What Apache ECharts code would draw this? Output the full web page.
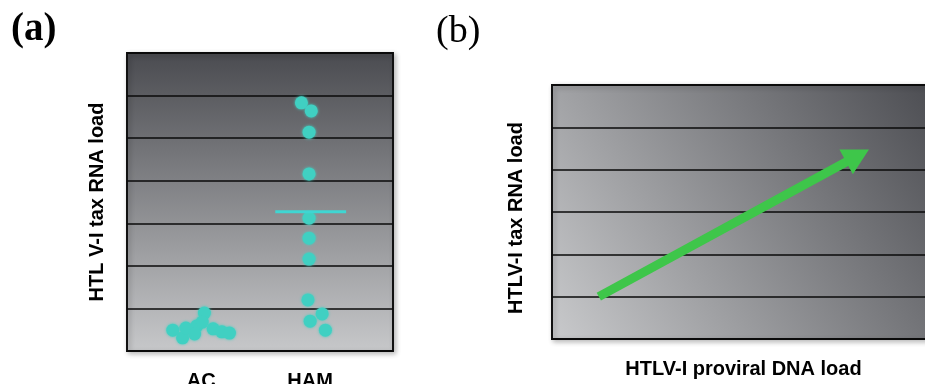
<!DOCTYPE html>
<html>
<head>
<meta charset="utf-8">
<script src="https://cdn.jsdelivr.net/npm/echarts@6/dist/echarts.min.js"></script>
<style>
  html, body { margin: 0; padding: 0; background: #ffffff; }
  #chart { width: 925px; height: 384px; }
</style>
</head>
<body>
<div id="chart"></div>
<script>
// Group labels (panel a) and their positions on the x scale
const groups = ['AC', 'HAM'];
const groupPos = [1, 2];

// Individual tax RNA load values, with their horizontal spread around each group
const acX = [0.74, 0.83, 0.86, 0.96, 1.03, 1.01, 1.11, 1.19, 1.26, 0.94];
const acY = [0.49, 0.31, 0.54, 0.59, 0.89, 0.68, 0.52, 0.45, 0.42, 0.40];
const hamX = [1.92, 2.01, 1.99, 1.99, 1.99, 1.99, 1.99, 1.98, 2.11, 2.00, 2.14];
const hamY = [5.83, 5.64, 5.14, 4.16, 3.12, 2.65, 2.16, 1.20, 0.87, 0.70, 0.49];

// Median of the HAM group and the width of its bar
const hamMedian = 3.27;
const medianSpan = [1.68, 2.33];

// Panel b: trend from low to high proviral load
const trendStart = [1.1, 1.0];
const trendEnd = [7.18, 4.33];

// Axis ranges (bands of the log-scale background)
const yMaxA = 7;
const yMaxB = 6;
const xMaxB = 9;

const zip = (xs, ys) => xs.map((x, i) => [x, ys[i]]);

const dotColor = '#40d0c2';
const titleFont = { fontFamily: 'Liberation Sans, Arial, sans-serif', fontWeight: 'bold', fontSize: 20, color: '#000' };

const chart = echarts.init(document.getElementById('chart'), null, { renderer: 'canvas' });

chart.setOption({
  animation: false,
  backgroundColor: '#ffffff',
  graphic: [
    { type: 'text', left: 11, top: 10, style: { text: '(a)', font: '600 39px "Liberation Serif", "Times New Roman", serif', fill: '#000' } },
    { type: 'text', left: 436, top: 13, style: { text: '(b)', font: '38px "Liberation Serif", "Times New Roman", serif', fill: '#000' } }
  ],
  grid: [
    {
      left: 127, top: 53, width: 266, height: 298,
      outerBoundsMode: 'none',
      show: true,
      borderColor: '#111', borderWidth: 2,
      backgroundColor: new echarts.graphic.LinearGradient(0, 0, 0, 1, [
        { offset: 0, color: '#4a4b50' },
        { offset: 1, color: '#c7c8ca' }
      ]),
      shadowColor: 'rgba(0,0,0,0.25)', shadowBlur: 5, shadowOffsetX: 2, shadowOffsetY: 2
    },
    {
      left: 552, top: 85, width: 383, height: 254,
      outerBoundsMode: 'none',
      show: true,
      borderColor: '#111', borderWidth: 2,
      backgroundColor: new echarts.graphic.LinearGradient(0, 1, 1, 0, [
        { offset: 0, color: '#c9cacc' },
        { offset: 1, color: '#4b4c51' }
      ]),
      shadowColor: 'rgba(0,0,0,0.25)', shadowBlur: 5, shadowOffsetX: 2, shadowOffsetY: 2
    }
  ],
  xAxis: [
    {
      gridIndex: 0, type: 'value', min: 0.32, max: 2.76,
      axisLine: { show: false }, axisTick: { show: false }, splitLine: { show: false },
      axisLabel: {
        customValues: groupPos,
        formatter: v => groups[groupPos.indexOf(Math.round(v))] || '',
        margin: 20,
        ...titleFont
      }
    },
    {
      gridIndex: 1, type: 'value', min: 0, max: xMaxB,
      axisLine: { show: false }, axisTick: { show: false }, splitLine: { show: false },
      axisLabel: { show: false },
      name: 'HTLV-I proviral DNA load', nameLocation: 'middle', nameGap: 20,
      nameTextStyle: titleFont
    }
  ],
  yAxis: [
    {
      gridIndex: 0, type: 'value', min: 0, max: yMaxA, interval: 1,
      axisLine: { show: false }, axisTick: { show: false }, axisLabel: { show: false },
      splitLine: { show: true, lineStyle: { color: '#0a0a0a', width: 1.5 } },
      name: 'HTL V-I tax RNA load', nameLocation: 'middle', nameGap: 20,
      nameTextStyle: titleFont
    },
    {
      gridIndex: 1, type: 'value', min: 0, max: yMaxB, interval: 1,
      axisLine: { show: false }, axisTick: { show: false }, axisLabel: { show: false },
      splitLine: { show: true, lineStyle: { color: '#0a0a0a', width: 1.5 } },
      name: 'HTLV-I tax RNA load', nameLocation: 'middle', nameGap: 26,
      nameTextStyle: Object.assign({}, titleFont, { padding: [0, 12, 0, 0] })
    }
  ],
  series: [
    {
      type: 'scatter', xAxisIndex: 0, yAxisIndex: 0,
      data: zip(acX, acY), symbolSize: 13,
      itemStyle: { color: dotColor, opacity: 1, shadowBlur: 3, shadowColor: dotColor }
    },
    {
      type: 'scatter', xAxisIndex: 0, yAxisIndex: 0,
      data: zip(hamX, hamY), symbolSize: 13,
      itemStyle: { color: dotColor, opacity: 1, shadowBlur: 3, shadowColor: dotColor }
    },
    {
      type: 'line', xAxisIndex: 0, yAxisIndex: 0,
      data: medianSpan.map(x => [x, hamMedian]),
      symbol: 'none', lineStyle: { color: '#3fd6d2', width: 3 }, z: 3
    },
    {
      type: 'line', xAxisIndex: 1, yAxisIndex: 1, data: [],
      markLine: {
        silent: true,
        symbol: ['none', 'triangle'],
        symbolSize: [28, 26],
        label: { show: false },
        lineStyle: { color: '#3ec64a', width: 9, type: 'solid' },
        itemStyle: { color: '#3ec64a' },
        data: [[{ coord: trendStart }, { coord: trendEnd }]]
      }
    }
  ]
});
</script>
</body>
</html>
